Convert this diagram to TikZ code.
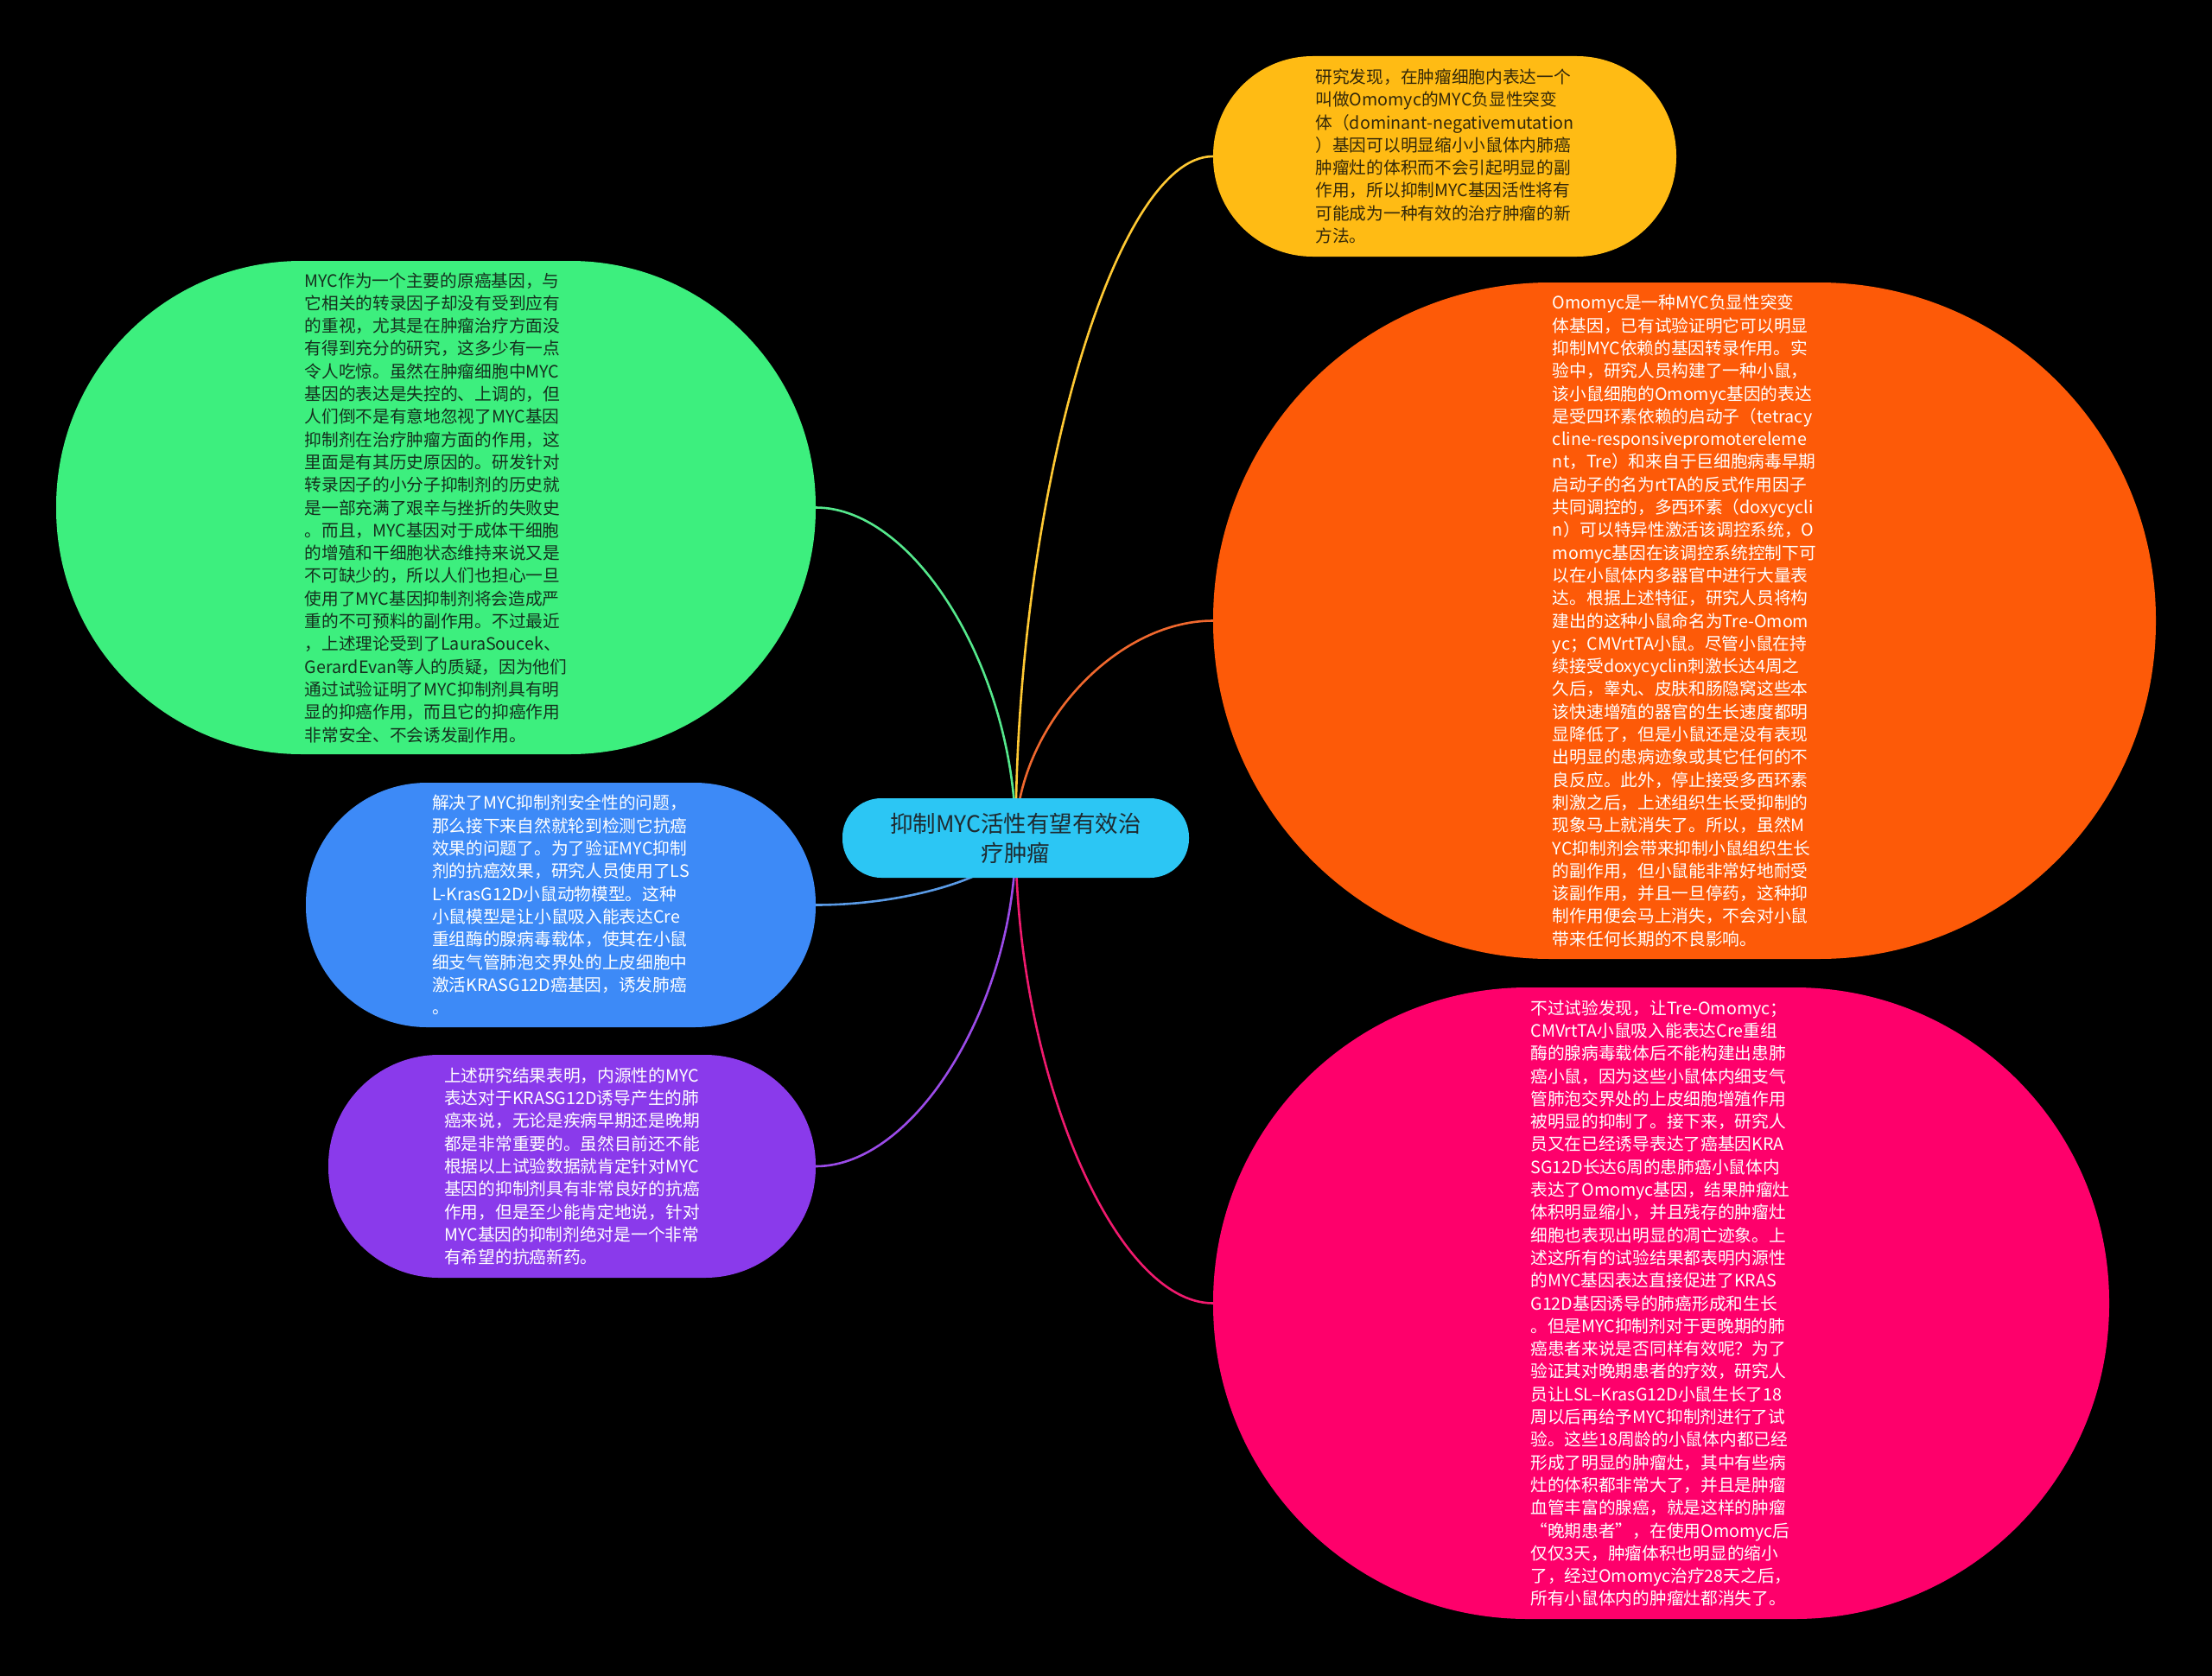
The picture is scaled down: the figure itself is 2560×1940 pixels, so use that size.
\documentclass[tikz,border=0pt]{standalone}
\usepackage{fontspec}
\setmainfont{Noto Sans CJK SC}
\usetikzlibrary{calc}
\pgfdeclarelayer{back}
\pgfdeclarelayer{lines}
\pgfsetlayers{back,lines,main}
\definecolor{cYel}{HTML}{FFBB14}
\definecolor{cOra}{HTML}{FD5A08}
\definecolor{cPink}{HTML}{FE006B}
\definecolor{cGreen}{HTML}{3DEF7E}
\definecolor{cBlue}{HTML}{3D8AF7}
\definecolor{cPurp}{HTML}{8A3AEB}
\definecolor{cCyan}{HTML}{2CC6F4}
\definecolor{lYel}{HTML}{FFC933}
\definecolor{lOra}{HTML}{F0682E}
\definecolor{lPink}{HTML}{F01A6E}
\definecolor{lGreen}{HTML}{55E88C}
\definecolor{lBlue}{HTML}{5A9BE6}
\definecolor{lPurp}{HTML}{9B4BE8}
\definecolor{tDark}{HTML}{33280A}
\definecolor{tGreen}{HTML}{15301E}
\definecolor{tCen}{HTML}{1E2A30}
\newcommand\mmconn[3]{%
  \draw[#1] (#2) .. controls ($(#2)!0.5!(#2|-#3)$) and ($(#3)!0.5!(#2|-#3)$) .. (#3);}
\begin{document}
\begin{tikzpicture}[x=1pt,y=-1pt,
  bubble/.style={rectangle, inner sep=0pt, align=left, font=\fontsize{19.7}{26.3}\selectfont},
  link/.style={line width=2.6pt}]
\begin{pgfonlayer}{back}
\fill[black] (0,0) rectangle (2560,1940);
\end{pgfonlayer}
\useasboundingbox (0,0) rectangle (2560,1940);

\node[rectangle, fill=cCyan, text=tCen, inner sep=0pt, align=center,
  minimum width=401pt, minimum height=92pt, rounded corners=45pt,
  font=\fontsize{26.5}{34}\selectfont] (c) at (1175.5,970)
  {抑制MYC活性有望有效治\\疗肿瘤};

\node[bubble, fill=cYel, text=tDark, minimum width=536pt, minimum height=232pt, rounded corners=115pt] (yel) at (1672,181) {%
研究发现，在肿瘤细胞内表达一个\\
叫做Omomyc的MYC负显性突变\\
体（dominant-negativemutation\\
）基因可以明显缩小小鼠体内肺癌\\
肿瘤灶的体积而不会引起明显的副\\
作用，所以抑制MYC基因活性将有\\
可能成为一种有效的治疗肿瘤的新\\
方法。};

\node[bubble, fill=cOra, text=white, minimum width=1091pt, minimum height=783pt, rounded corners=390pt] (ora) at (1949.5,718.5) {%
Omomyc是一种MYC负显性突变\\
体基因，已有试验证明它可以明显\\
抑制MYC依赖的基因转录作用。实\\
验中，研究人员构建了一种小鼠，\\
该小鼠细胞的Omomyc基因的表达\\
是受四环素依赖的启动子（tetracy\\
cline-responsivepromotereleme\\
nt，Tre）和来自于巨细胞病毒早期\\
启动子的名为rtTA的反式作用因子\\
共同调控的，多西环素（doxycycli\\
n）可以特异性激活该调控系统，O\\
momyc基因在该调控系统控制下可\\
以在小鼠体内多器官中进行大量表\\
达。根据上述特征，研究人员将构\\
建出的这种小鼠命名为Tre-Omom\\
yc；CMVrtTA小鼠。尽管小鼠在持\\
续接受doxycyclin刺激长达4周之\\
久后，睾丸、皮肤和肠隐窝这些本\\
该快速增殖的器官的生长速度都明\\
显降低了，但是小鼠还是没有表现\\
出明显的患病迹象或其它任何的不\\
良反应。此外，停止接受多西环素\\
刺激之后，上述组织生长受抑制的\\
现象马上就消失了。所以，虽然M\\
YC抑制剂会带来抑制小鼠组织生长\\
的副作用，但小鼠能非常好地耐受\\
该副作用，并且一旦停药，这种抑\\
制作用便会马上消失，不会对小鼠\\
带来任何长期的不良影响。};

\node[bubble, fill=cPink, text=white, minimum width=1037pt, minimum height=731pt, rounded corners=364pt] (pink) at (1922.5,1508.5) {%
不过试验发现，让Tre-Omomyc；\\
CMVrtTA小鼠吸入能表达Cre重组\\
酶的腺病毒载体后不能构建出患肺\\
癌小鼠，因为这些小鼠体内细支气\\
管肺泡交界处的上皮细胞增殖作用\\
被明显的抑制了。接下来，研究人\\
员又在已经诱导表达了癌基因KRA\\
SG12D长达6周的患肺癌小鼠体内\\
表达了Omomyc基因，结果肿瘤灶\\
体积明显缩小，并且残存的肿瘤灶\\
细胞也表现出明显的凋亡迹象。上\\
述这所有的试验结果都表明内源性\\
的MYC基因表达直接促进了KRAS\\
G12D基因诱导的肺癌形成和生长\\
。但是MYC抑制剂对于更晚期的肺\\
癌患者来说是否同样有效呢？为了\\
验证其对晚期患者的疗效，研究人\\
员让LSL–KrasG12D小鼠生长了18\\
周以后再给予MYC抑制剂进行了试\\
验。这些18周龄的小鼠体内都已经\\
形成了明显的肿瘤灶，其中有些病\\
灶的体积都非常大了，并且是肿瘤\\
血管丰富的腺癌，就是这样的肿瘤\\
“晚期患者”，在使用Omomyc后\\
仅仅3天，肿瘤体积也明显的缩小\\
了，经过Omomyc治疗28天之后，\\
所有小鼠体内的肿瘤灶都消失了。};

\node[bubble, fill=cGreen, text=tGreen, minimum width=879pt, minimum height=571pt, rounded corners=284pt] (grn) at (504.5,587.5) {%
MYC作为一个主要的原癌基因，与\\
它相关的转录因子却没有受到应有\\
的重视，尤其是在肿瘤治疗方面没\\
有得到充分的研究，这多少有一点\\
令人吃惊。虽然在肿瘤细胞中MYC\\
基因的表达是失控的、上调的，但\\
人们倒不是有意地忽视了MYC基因\\
抑制剂在治疗肿瘤方面的作用，这\\
里面是有其历史原因的。研发针对\\
转录因子的小分子抑制剂的历史就\\
是一部充满了艰辛与挫折的失败史\\
。而且，MYC基因对于成体干细胞\\
的增殖和干细胞状态维持来说又是\\
不可缺少的，所以人们也担心一旦\\
使用了MYC基因抑制剂将会造成严\\
重的不可预料的副作用。不过最近\\
，上述理论受到了LauraSoucek、\\
GerardEvan等人的质疑，因为他们\\
通过试验证明了MYC抑制剂具有明\\
显的抑癌作用，而且它的抑癌作用\\
非常安全、不会诱发副作用。};

\node[bubble, fill=cBlue, text=white, minimum width=590pt, minimum height=283pt, rounded corners=140pt] (blu) at (649,1047.5) {%
解决了MYC抑制剂安全性的问题，\\
那么接下来自然就轮到检测它抗癌\\
效果的问题了。为了验证MYC抑制\\
剂的抗癌效果，研究人员使用了LS\\
L-KrasG12D小鼠动物模型。这种\\
小鼠模型是让小鼠吸入能表达Cre\\
重组酶的腺病毒载体，使其在小鼠\\
细支气管肺泡交界处的上皮细胞中\\
激活KRASG12D癌基因，诱发肺癌\\
。};

\node[bubble, fill=cPurp, text=white, minimum width=564pt, minimum height=258pt, rounded corners=128pt] (pur) at (662,1350) {%
上述研究结果表明，内源性的MYC\\
表达对于KRASG12D诱导产生的肺\\
癌来说，无论是疾病早期还是晚期\\
都是非常重要的。虽然目前还不能\\
根据以上试验数据就肯定针对MYC\\
基因的抑制剂具有非常良好的抗癌\\
作用，但是至少能肯定地说，针对\\
MYC基因的抑制剂绝对是一个非常\\
有希望的抗癌新药。};

\begin{pgfonlayer}{lines}
\mmconn{link, lYel}{c.center}{yel.west}
\mmconn{link, lOra}{c.center}{ora.west}
\mmconn{link, lPink}{c.center}{pink.west}
\mmconn{link, lGreen}{c.center}{grn.east}
\mmconn{link, lBlue}{c.center}{blu.east}
\mmconn{link, lPurp}{c.center}{pur.east}
\end{pgfonlayer}
\end{tikzpicture}
\end{document}
